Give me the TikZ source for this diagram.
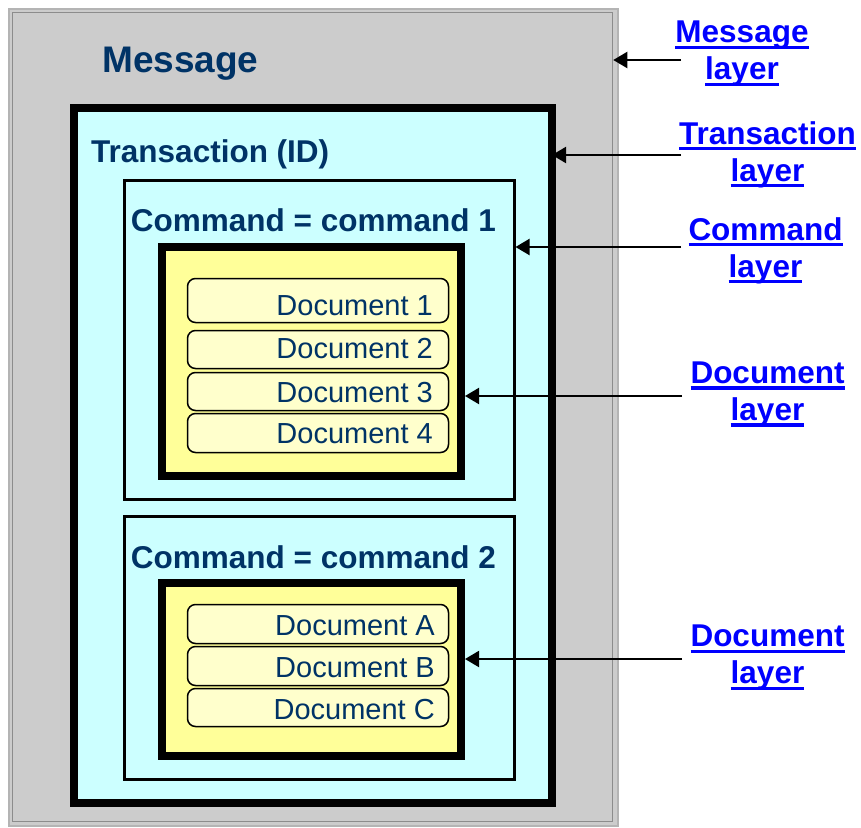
\documentclass[tikz,border=0pt]{standalone}
\usepackage{fontspec}
\setmainfont{Liberation Sans}
\usetikzlibrary{arrows.meta}

\definecolor{msgfill}{HTML}{CCCCCC}
\definecolor{msgedge}{HTML}{B4B4B4}
\definecolor{msgedgein}{HTML}{8C8C8C}
\definecolor{transfill}{HTML}{CCFFFF}
\definecolor{docarea}{HTML}{FFFF99}
\definecolor{docfill}{HTML}{FFFFCC}
\definecolor{navy}{HTML}{003366}
\definecolor{linkblue}{HTML}{0000FF}

% underlined link text with a fixed rule just below the baseline
\newsavebox\lnkbox
\newcommand\linkul[1]{\sbox\lnkbox{#1}\rlap{\rule[-6.3pt]{\wd\lnkbox}{3.5pt}}\usebox\lnkbox}

\begin{document}
\begin{tikzpicture}[x=1pt,y=-1pt,
  frame/.style={draw, rectangle, inner sep=0pt},
  msgbox/.style={frame, fill=msgfill, draw=msgedge, line width=2pt},
  msginner/.style={frame, draw=msgedgein, line width=1.5pt},
  transbox/.style={frame, fill=transfill, line width=8pt},
  cmdbox/.style={frame, line width=3pt},
  docarea/.style={frame, fill=docarea, line width=8pt},
  docbox/.style={frame, fill=docfill, line width=1.5pt, rounded corners=8pt,
                 minimum width=261pt},
  bigtitle/.style={inner sep=0pt, text=navy, font=\fontsize{37}{44}\selectfont\bfseries},
  title/.style={inner sep=0pt, text=navy, font=\fontsize{31.5}{38}\selectfont\bfseries},
  doctext/.style={inner sep=0pt, text=navy, font=\fontsize{29}{34}\selectfont},
  layerlabel/.style={inner sep=0pt, text=linkblue, font=\fontsize{31.5}{37}\selectfont\bfseries},
  conn/.style={draw=black, line width=2pt, -{Triangle[length=14pt,width=16pt]}}
]
\useasboundingbox (0,0) rectangle (861,827);

% message layer
\node[msgbox, minimum width=609pt, minimum height=817pt] (msg) at (313,417) {};
\node[msginner, minimum width=600pt, minimum height=809pt] (msgin) at (312.5,417) {};
\node[bigtitle, anchor=base west] (msgtitle) at (102,72) {Message};

% transaction layer
\node[transbox, minimum width=478pt, minimum height=695pt] (trans) at (313,455.5) {};
\node[title, anchor=base west] (transtitle) at (91,162.7) {Transaction (ID)};

% command 1
\node[cmdbox, minimum width=389.5pt, minimum height=318.5pt] (cmd1) at (319.25,339.75) {};
\node[title, anchor=base west] (cmd1title) at (130.7,231) {Command = command 1};
\node[docarea, minimum width=299.5pt, minimum height=229pt] (dc1) at (311.25,361.5) {};
\node[docbox, minimum height=44pt] (d1) at (318,300.5) {};
\node[docbox, minimum height=38pt] (d2) at (318,349.5) {};
\node[docbox, minimum height=38pt] (d3) at (318,391.5) {};
\node[docbox, minimum height=39pt] (d4) at (318,433) {};
\node[doctext, anchor=base east] (t1) at (433,315) {Document 1};
\node[doctext, anchor=base east] (t2) at (433,358) {Document 2};
\node[doctext, anchor=base east] (t3) at (433,402) {Document 3};
\node[doctext, anchor=base east] (t4) at (433,443) {Document 4};

% command 2
\node[cmdbox, minimum width=389.5pt, minimum height=263pt] (cmd2) at (319.25,648) {};
\node[title, anchor=base west] (cmd2title) at (130.7,568.3) {Command = command 2};
\node[docarea, minimum width=299.5pt, minimum height=173pt] (dc2) at (311.25,669.5) {};
\node[docbox, minimum height=39pt] (dA) at (318,624) {};
\node[docbox, minimum height=39pt] (dB) at (318,666) {};
\node[docbox, minimum height=38pt] (dC) at (318,707.5) {};
\node[doctext, anchor=base east] (tA) at (435,635) {Document A};
\node[doctext, anchor=base east] (tB) at (435,677) {Document B};
\node[doctext, anchor=base east] (tC) at (435,719) {Document C};

% layer labels
\node[layerlabel, anchor=base] (lmsg) at (742,42.7)
  {\begin{tabular}[t]{@{}c@{}}\linkul{Message}\\\linkul{layer}\end{tabular}};
\node[layerlabel, anchor=base] (ltrans) at (767.5,144)
  {\begin{tabular}[t]{@{}c@{}}\linkul{Transaction}\\\linkul{layer}\end{tabular}};
\node[layerlabel, anchor=base] (lcmd) at (765.5,240)
  {\begin{tabular}[t]{@{}c@{}}\linkul{Command}\\\linkul{layer}\end{tabular}};
\node[layerlabel, anchor=base] (ldoc1) at (767.5,383.3)
  {\begin{tabular}[t]{@{}c@{}}\linkul{Document}\\\linkul{layer}\end{tabular}};
\node[layerlabel, anchor=base] (ldoc2) at (767.5,646.7)
  {\begin{tabular}[t]{@{}c@{}}\linkul{Document}\\\linkul{layer}\end{tabular}};

% pointer arrows
\coordinate (pmsg) at (681,60);
\coordinate (ptrans) at (681,155);
\coordinate (pcmd) at (681,247);
\coordinate (pdoc1) at (682,396);
\coordinate (pdoc2) at (682,659);
\draw[conn] (pmsg) -- (msgin.east |- pmsg);
\draw[conn, shorten >=-4pt] (ptrans) -- (trans.east |- ptrans);
\draw[conn] (pcmd) -- (cmd1.east |- pcmd);
\draw[conn] (pdoc1) -- (dc1.east |- pdoc1);
\draw[conn] (pdoc2) -- (dc2.east |- pdoc2);
\end{tikzpicture}
\end{document}
